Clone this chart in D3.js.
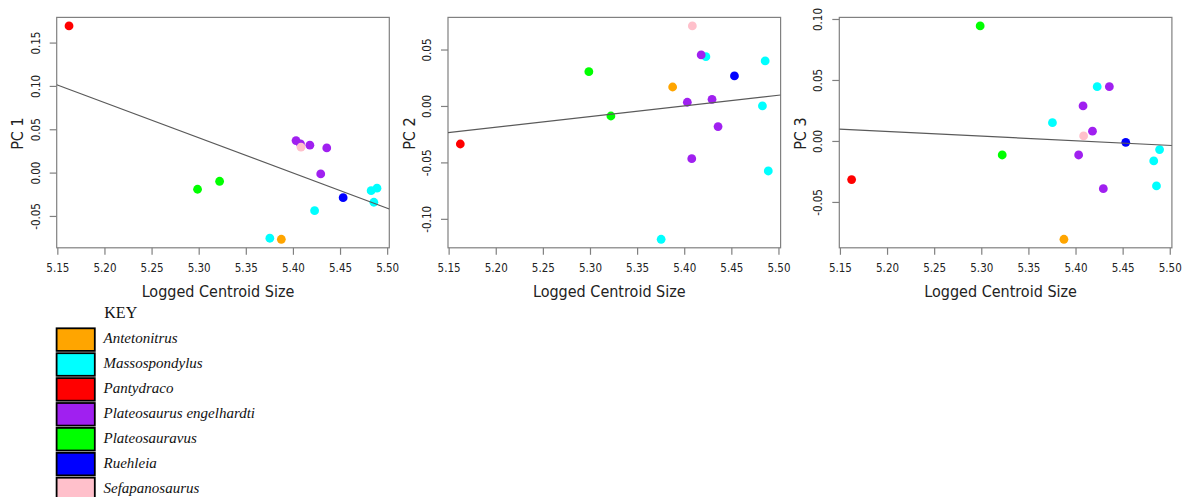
<!DOCTYPE html>
<html>
<head>
<meta charset="utf-8">
<script src="https://cdn.jsdelivr.net/npm/d3@7"></script>
<style>
  html, body { margin: 0; padding: 0; background: #fff; }
  svg { display: block; }
  .tick-label { font-family: "DejaVu Sans Condensed", "DejaVu Sans", sans-serif; font-stretch: condensed; font-size: 11.5px; fill: #222; }
  .axis-title { font-family: "DejaVu Sans Condensed", "DejaVu Sans", sans-serif; font-stretch: condensed; font-size: 16px; fill: #222; }
  .key-title { font-family: "Liberation Serif", "Times New Roman", serif; font-size: 16px; fill: #111; }
  .key-label { font-family: "Liberation Serif", "Times New Roman", serif; font-style: italic; font-size: 15px; fill: #111; }
</style>
</head>
<body>
<svg id="chart" width="1183" height="497"></svg>
<script>
// Species (key order) and their plotting colours
const species = ["Antetonitrus", "Massospondylus", "Pantydraco", "Plateosaurus engelhardti",
                 "Plateosauravus", "Ruehleia", "Sefapanosaurus"];
const speciesColors = ["#FFA500", "#00FFFF", "#FF0000", "#A020F0", "#00FF00", "#0000FF", "#FFC0CB"];

// One entry per specimen, grouped by species
const specimenSpecies = [0, 1, 1, 1, 1, 1, 2, 3, 3, 3, 3, 3, 4, 4, 5, 6];
const centroidSize = [5.3877, 5.3755, 5.4230, 5.4830, 5.4859, 5.4892, 5.1624,
                      5.4033, 5.4080, 5.4180, 5.4295, 5.4359, 5.2988, 5.3222, 5.4533, 5.4086];
const pc1 = [-0.0769, -0.0757, -0.0439, -0.0208, -0.0342, -0.0180, 0.1692,
             0.0369, 0.0331, 0.0316, -0.0015, 0.0285, -0.0192, -0.0100, -0.0289, 0.0293];
const pc2 = [0.0168, -0.1181, 0.0437, 0.0000, 0.0399, -0.0576, -0.0337,
             0.0033, -0.0467, 0.0452, 0.0059, -0.0183, 0.0304, -0.0089, 0.0266, 0.0709];
const pc3 = [-0.0806, 0.0150, 0.0445, -0.0164, -0.0369, -0.0071, -0.0317,
             -0.0115, 0.0287, 0.0080, -0.0391, 0.0445, 0.0943, -0.0115, -0.0011, 0.0041];

// Tick labels
const xTicks = [5.15, 5.20, 5.25, 5.30, 5.35, 5.40, 5.45, 5.50];
const pc1Ticks = [-0.05, 0.00, 0.05, 0.10, 0.15];
const pc2Ticks = [-0.10, -0.05, 0.00, 0.05];
const pc3Ticks = [-0.05, 0.00, 0.05, 0.10];

const panels = [
  { label: "PC 1", values: pc1, ticks: pc1Ticks },
  { label: "PC 2", values: pc2, ticks: pc2Ticks },
  { label: "PC 3", values: pc3, ticks: pc3Ticks }
];

// Layout
const panelLeft = [56.7, 448.0, 839.3];
const plotW = 332.6, plotTop = 17.4, plotH = 230.4;

const svg = d3.select("#chart");
const fmt = v => v.toFixed(2).replace("-0.00", "0.00");

// R-style axis range: data extent widened by 4% on each side
function padded(values) {
  const [lo, hi] = d3.extent(values);
  const pad = (hi - lo) * 0.04;
  return [lo - pad, hi + pad];
}

// Ordinary least-squares fit y = a + b x
function lsFit(xs, ys) {
  const mx = d3.mean(xs), my = d3.mean(ys);
  let sxy = 0, sxx = 0;
  xs.forEach((x, i) => { sxy += (x - mx) * (ys[i] - my); sxx += (x - mx) * (x - mx); });
  const b = sxy / sxx;
  return { a: my - b * mx, b };
}

panels.forEach((p, k) => {
  const g = svg.append("g").attr("transform", `translate(${panelLeft[k]},${plotTop})`);
  const x = d3.scaleLinear().domain(padded(centroidSize)).range([0, plotW]);
  const y = d3.scaleLinear().domain(padded(p.values)).range([plotH, 0]);

  // clip region for the fitted line
  const clipId = "clip" + k;
  g.append("clipPath").attr("id", clipId)
    .append("rect").attr("width", plotW).attr("height", plotH);

  // bottom axis
  const xAxis = g.append("g").attr("transform", `translate(0,${plotH})`)
    .call(d3.axisBottom(x).tickValues(xTicks).tickSize(7).tickPadding(9).tickFormat(fmt));
  xAxis.select(".domain").remove();
  xAxis.selectAll(".tick line").attr("stroke", "#808080").attr("stroke-width", 1.2);
  xAxis.selectAll(".tick text").attr("class", "tick-label").attr("fill", null);

  // left axis with labels parallel to the axis
  const yAxis = g.append("g")
    .call(d3.axisLeft(y).tickValues(p.ticks).tickSize(7).tickFormat(fmt));
  yAxis.select(".domain").remove();
  yAxis.selectAll(".tick line").attr("stroke", "#808080").attr("stroke-width", 1.2);
  yAxis.selectAll(".tick text")
    .attr("class", "tick-label").attr("fill", null)
    .attr("x", null).attr("dy", null)
    .attr("text-anchor", "middle")
    .attr("dominant-baseline", "central")
    .attr("transform", "translate(-21,0) rotate(-90)");

  // frame
  g.append("rect").attr("width", plotW).attr("height", plotH)
    .attr("fill", "none").attr("stroke", "#808080").attr("stroke-width", 1.2);

  // points, drawn in key order
  g.append("g").selectAll("circle")
    .data(centroidSize.map((c, i) => ({ c, v: p.values[i], s: specimenSpecies[i] })))
    .join("circle")
    .attr("cx", d => x(d.c))
    .attr("cy", d => y(d.v))
    .attr("r", 4.4)
    .attr("fill", d => speciesColors[d.s]);

  // regression line across the plot
  const fit = lsFit(centroidSize, p.values);
  const [x0, x1] = x.domain();
  g.append("line")
    .attr("clip-path", `url(#${clipId})`)
    .attr("x1", x(x0)).attr("y1", y(fit.a + fit.b * x0))
    .attr("x2", x(x1)).attr("y2", y(fit.a + fit.b * x1))
    .attr("stroke", "#5a5a5a").attr("stroke-width", 1.2);

  // axis titles
  g.append("text").attr("class", "axis-title")
    .attr("x", plotW / 2 - 5).attr("y", 280)
    .attr("text-anchor", "middle")
    .text("Logged Centroid Size");
  g.append("text").attr("class", "axis-title")
    .attr("transform", `translate(-33.5,${plotH / 2 + 1}) rotate(-90)`)
    .attr("text-anchor", "middle")
    .text(p.label);
});

// Key
const key = svg.append("g");
key.append("text").attr("class", "key-title").attr("x", 104.3).attr("y", 317.7).text("KEY");
const keyRows = key.selectAll("g.row").data(species).join("g")
  .attr("class", "row")
  .attr("transform", (d, i) => `translate(0,${328.3 + i * 24.9})`);
keyRows.append("rect")
  .attr("x", 56.6).attr("y", 0).attr("width", 38.2).attr("height", 22.6)
  .attr("fill", (d, i) => speciesColors[i])
  .attr("stroke", "#000").attr("stroke-width", 1.8);
keyRows.append("text").attr("class", "key-label")
  .attr("x", 103.5).attr("y", 15.2)
  .text(d => d);
</script>
</body>
</html>
